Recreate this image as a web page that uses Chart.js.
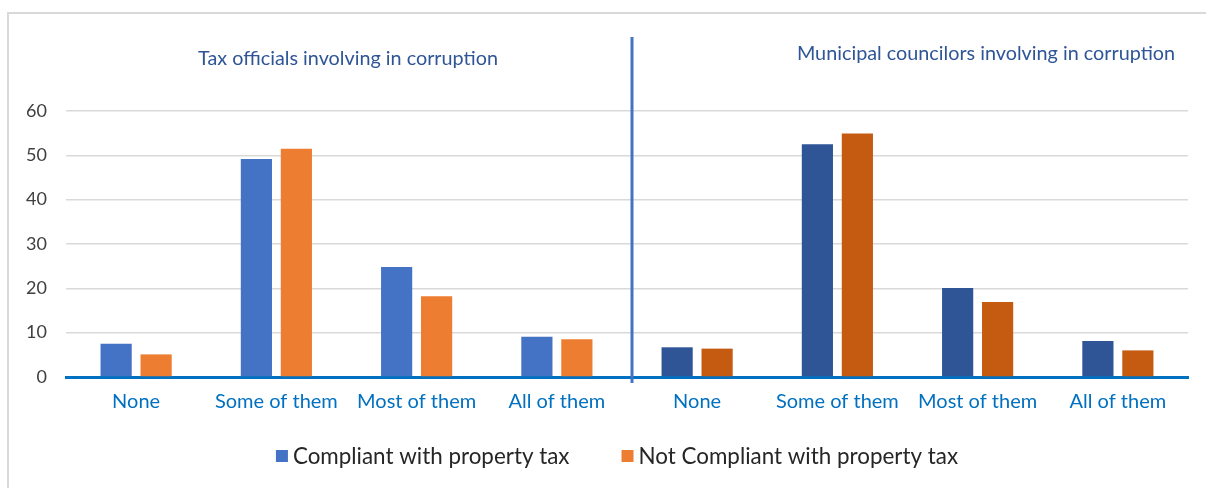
<!DOCTYPE html>
<html>
<head>
<meta charset="utf-8">
<script src="https://cdn.jsdelivr.net/npm/chart.js@4/dist/chart.umd.min.js"></script>
<style>
    html, body { margin: 0; padding: 0; background: #fff; }
    #wrap { position: relative; width: 1206px; height: 488px; overflow: hidden; }
    #frame {
        position: absolute; left: 7px; top: 12px; width: 1220px; height: 500px;
        border-left: 2px solid #d9d9d9; border-top: 2px solid #d9d9d9;
    }
    canvas { position: absolute; left: 0; top: 0; }
</style>
</head>
<body>
<div id="wrap">
    <div id="frame"></div>
    <canvas id="chart" width="1206" height="488"></canvas>
</div>
<script>
const categories = ["None", "Some of them", "Most of them", "All of them",
                    "None", "Some of them", "Most of them", "All of them"];
const groupTitles = ["Tax officials involving in corruption",
                     "Municipal councilors involving in corruption"];
const seriesNames = ["Compliant with property tax", "Not Compliant with property tax"];
const compliant = [7.5, 49.2, 24.8, 9.1, 6.7, 52.5, 20.1, 8.1];
const notCompliant = [5.1, 51.5, 18.2, 8.5, 6.4, 54.9, 16.9, 6.0];
const yTicks = [0, 10, 20, 30, 40, 50, 60];

// first four bars use the light palette, last four the dark one
const blueBars = ["#4472C4", "#4472C4", "#4472C4", "#4472C4", "#2F5597", "#2F5597", "#2F5597", "#2F5597"];
const orangeBars = ["#ED7D31", "#ED7D31", "#ED7D31", "#ED7D31", "#C55A11", "#C55A11", "#C55A11", "#C55A11"];
const legendColors = ["#4472C4", "#ED7D31"];

const FONT = "Lato, 'Open Sans', sans-serif";

// ------------------------------
// Divider, group titles, legend
// ------------------------------
const decorations = {
    id: "decorations",
    afterDraw(chart) {
        const { ctx, chartArea, scales: { x } } = chart;
        // divider sits a little right of the midpoint between the two groups
        const divX = (x.getPixelForValue(3) + x.getPixelForValue(4)) / 2 + 5;

        ctx.save();
        ctx.strokeStyle = "#4472C4";
        ctx.lineWidth = 3;
        ctx.beginPath();
        ctx.moveTo(divX, 37);
        ctx.lineTo(divX, chartArea.bottom + 6);
        ctx.stroke();

        ctx.fillStyle = "#2F5597";
        ctx.font = "19.8px " + FONT;
        ctx.textAlign = "center";
        ctx.textBaseline = "middle";
        ctx.fillText(groupTitles[0], 348, 59);
        ctx.fillText(groupTitles[1], 986, 54);

        // legend
        ctx.font = "22.4px " + FONT;
        ctx.textAlign = "left";
        const box = 12, gapBox = 5, gapItem = 52;
        const widths = seriesNames.map(t => ctx.measureText(t).width);
        const total = widths.reduce((a, w) => a + box + gapBox + w, 0) + gapItem;
        let lx = 617 - total / 2;
        const ly = 456;
        seriesNames.forEach((t, i) => {
            ctx.fillStyle = legendColors[i];
            ctx.fillRect(lx, ly - box / 2, box, box);
            ctx.fillStyle = "#262626";
            ctx.fillText(t, lx + box + gapBox, ly + 1);
            lx += box + gapBox + widths[i] + gapItem;
        });
        ctx.restore();
    }
};

new Chart(document.getElementById("chart"), {
    type: "bar",
    data: {
        labels: categories,
        datasets: [
            { label: seriesNames[0], data: compliant, backgroundColor: blueBars },
            { label: seriesNames[1], data: notCompliant, backgroundColor: orangeBars }
        ]
    },
    options: {
        responsive: false,
        animation: false,
        layout: { padding: { top: 111, right: 18, bottom: 0, left: 0 } },
        datasets: { bar: { categoryPercentage: 0.57, barPercentage: 0.78 } },
        plugins: { legend: { display: false }, tooltip: { enabled: false } },
        scales: {
            x: {
                grid: { display: false, drawTicks: false },
                border: { display: true, color: "#0070C0", width: 3 },
                ticks: { color: "#0070C0", font: { family: FONT, size: 20 }, padding: 13, maxRotation: 0 },
                afterFit: s => { s.height = 111; }
            },
            y: {
                min: 0, max: 60,
                afterBuildTicks: s => { s.ticks = yTicks.map(v => ({ value: v })); },
                grid: { color: "#d9d9d9", lineWidth: 1.5, drawTicks: false },
                border: { display: false },
                ticks: { color: "#404040", font: { family: FONT, size: 18 }, padding: 19 },
                afterFit: s => { s.width = 66; }
            }
        }
    },
    plugins: [decorations]
});
</script>
</body>
</html>
